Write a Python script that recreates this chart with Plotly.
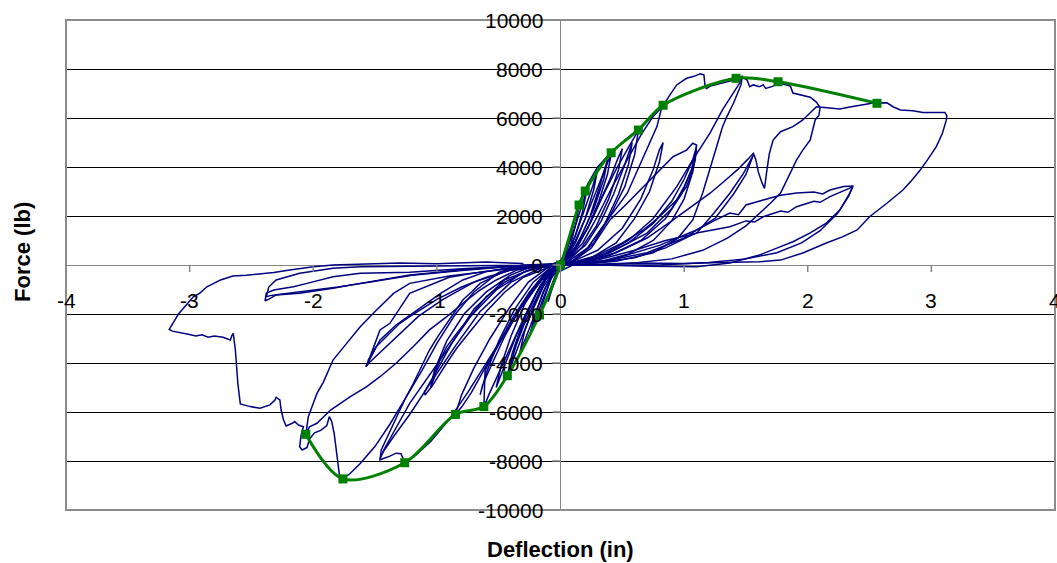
import plotly.graph_objects as go

# ---------------- data ----------------
x_tick_vals = [-4, -3, -2, -1, 0, 1, 2, 3, 4]
y_tick_vals = [-10000, -8000, -6000, -4000, -2000, 0, 2000, 4000, 6000, 8000, 10000]

# backbone (envelope) curve, green
env_x = [-2.06, -1.76, -1.26, -0.85, -0.62, -0.43, -0.17, 0.00, 0.15, 0.20, 0.41, 0.63, 0.83, 1.42, 1.76, 2.56]
env_y = [-6910, -8730, -8070, -6100, -5780, -4520, -2040, 0, 2450, 3020, 4580, 5510, 6520, 7620, 7480, 6600]

# hysteresis record, blue (one array pair per cycle)
loop01_x = [0, 0.03, 0.06, 0.10, 0.08, 0.04, 0.00, -0.03, -0.07, -0.10, -0.08, -0.03, 0.00]
loop01_y = [0, 500, 1000, 1600, 1100, 400, 0, -400, -1000, -1500, -1000, -300, 0]

loop02_x = [0.00, 0.05, 0.10, 0.15, 0.13, 0.08, 0.02, -0.04, -0.10, -0.17, -0.14, -0.08, -0.02]
loop02_y = [0, 700, 1600, 2450, 1800, 800, 100, -400, -1200, -2100, -1500, -600, 0]

loop03_x = [-0.02, 0.04, 0.10, 0.16, 0.21, 0.18, 0.12, 0.05, -0.02, -0.08, -0.15, -0.25, -0.21, -0.14, -0.06, -0.02]
loop03_y = [0, 500, 1300, 2200, 3000, 2200, 1200, 300, -100, -600, -1500, -2900, -2100, -1100, -300, 0]

loop04_x = [-0.03, 0.05, 0.12, 0.20, 0.26, 0.30, 0.27, 0.20, 0.12, 0.04, -0.04, -0.12, -0.20, -0.27, -0.33, -0.29, -0.21, -0.12, -0.05]
loop04_y = [0, 400, 1200, 2300, 3200, 3900, 3100, 1900, 900, 200, -200, -900, -1900, -2800, -3600, -2700, -1600, -600, -100]

loop05_x = [-0.05, 0.04, 0.12, 0.20, 0.28, 0.35, 0.41, 0.38, 0.31, 0.22, 0.12, 0.03, -0.05, -0.14, -0.23, -0.31, -0.38, -0.43, -0.39, -0.31, -0.20, -0.10, -0.03]
loop05_y = [0, 300, 1000, 1900, 2900, 3800, 4550, 3700, 2600, 1500, 600, 100, -200, -900, -1900, -2900, -3800, -4520, -3600, -2400, -1200, -400, 0]

loop06_x = [-0.03, 0.08, 0.16, 0.24, 0.31, 0.35, 0.38, 0.35, 0.27, 0.17, 0.07, -0.03, -0.12, -0.21, -0.30, -0.36, -0.40, -0.36, -0.28, -0.18, -0.08, -0.03]
loop06_y = [0, 400, 1100, 2000, 3100, 3800, 4300, 3500, 2300, 1200, 300, -100, -600, -1500, -2500, -3300, -4000, -3200, -2100, -1000, -200, 0]

loop07_x = [-0.08, 0.03, 0.12, 0.22, 0.31, 0.40, 0.46, 0.50, 0.47, 0.39, 0.29, 0.17, 0.05, -0.07, -0.16, -0.26, -0.36, -0.45, -0.52, -0.48, -0.40, -0.29, -0.16, -0.06]
loop07_y = [0, 200, 700, 1500, 2500, 3500, 4300, 4750, 3900, 2700, 1600, 700, 100, -200, -800, -1800, -2900, -4100, -5000, -4100, -2900, -1600, -600, -100]

loop08_x = [-0.06, 0.05, 0.15, 0.25, 0.35, 0.45, 0.55, 0.63, 0.60, 0.52, 0.40, 0.27, 0.12, 0.00, -0.10, -0.20, -0.30, -0.40, -0.50, -0.58, -0.62, -0.615, -0.61, -0.55, -0.45, -0.33, -0.20, -0.08]
loop08_y = [0, 300, 900, 1800, 2900, 3900, 4800, 5500, 4500, 3200, 2000, 900, 200, 0, -400, -1200, -2200, -3300, -4400, -5300, -5800, -5000, -4300, -3700, -2800, -1800, -800, -100]

loop09_x = [-0.08, 0.05, 0.18, 0.30, 0.42, 0.54, 0.65, 0.74, 0.82, 0.78, 0.72, 0.64, 0.54, 0.40, 0.22, 0.02, -0.12, -0.25, -0.38, -0.50, -0.62, -0.72, -0.80, -0.85, -0.80, -0.70, -0.57, -0.42, -0.26, -0.10]
loop09_y = [0, 200, 900, 2000, 3200, 4300, 5300, 6000, 6460, 5650, 4970, 4010, 2930, 1970, 700, 0, -300, -1100, -2100, -3200, -4300, -5200, -5800, -6100, -5300, -4200, -3000, -1800, -700, -100]

loop10_x = [-0.10, 0.10, 0.25, 0.40, 0.54, 0.67, 0.80, 0.91, 1.02, 1.07, 1.10, 1.09, 1.06, 1.02, 0.94, 0.80, 0.67, 0.50, 0.30, 0.10, -0.10, -0.30, -0.45, -0.60, -0.73, -0.84, -0.92, -0.98, -1.04, -1.096, -1.10, -1.09, -1.06, -1.03, -0.975, -0.92, -0.84, -0.73, -0.60, -0.45, -0.28, -0.12]
loop10_y = [0, 150, 700, 1840, 2520, 3200, 3880, 4420, 4690, 4970, 4900, 4290, 3740, 3200, 2650, 1970, 1430, 900, 400, 100, -100, -500, -1100, -1900, -2700, -3400, -4000, -4500, -4950, -5310, -5150, -5100, -4830, -4560, -3880, -3330, -2790, -2110, -1290, -700, -250, 0]

loop11_x = [0.00, 0.08, 0.15, 0.22, 0.30, 0.41, 0.52, 0.63, 0.73, 0.83, 0.88, 0.94, 1.02, 1.08, 1.13, 1.16, 1.17, 1.18, 1.22, 1.27, 1.33, 1.38, 1.43, 1.47, 1.46, 1.43, 1.40, 1.35, 1.31, 1.27, 1.23, 1.19, 1.15, 1.07, 0.95, 0.75, 0.45, 0.10,
            -0.15, -0.30, -0.45, -0.60, -0.75, -0.90, -1.05, -1.18, -1.26, -1.29, -1.33, -1.38, -1.43, -1.46, -1.45, -1.39, -1.33, -1.26, -1.19, -1.12, -1.06, -0.99, -0.92, -0.85, -0.79, -0.72, -0.65, -0.45, -0.20]
loop11_y = [0, 1200, 2450, 3300, 4000, 4600, 5100, 5550, 6000, 6500, 6900, 7350, 7620, 7700, 7800, 7760, 7280, 7200, 7320, 7380, 7480, 7520, 7620, 7700, 7350, 6950, 6610, 6100, 5630, 4950, 4290, 3600, 2940, 1840, 1100, 500, 150, 0,
            -600, -1600, -2800, -4000, -5200, -6300, -7200, -7800, -8070, -7700, -7680, -7800, -7880, -7950, -7550, -6900, -6190, -5500, -4830, -4100, -3470, -2900, -2380, -1900, -1430, -1100, -750, -250, 0]

loop12_x = [-0.20, 0.10, 0.30, 0.55, 0.75, 0.94, 1.07, 1.21, 1.31, 1.40, 1.45, 1.466, 1.51, 1.53, 1.56, 1.61, 1.64, 1.66, 1.72, 1.76, 1.83, 1.86, 1.88, 1.94, 2.02, 2.07, 2.10, 2.09, 2.06, 2.02, 1.96, 1.91, 1.87, 1.78, 1.70, 1.61, 1.50, 1.35, 1.15, 0.90, 0.60, 0.30, 0.00,
            -0.30, -0.50, -0.70, -0.85, -1.00, -1.12, -1.25, -1.38, -1.50, -1.62, -1.70, -1.76, -1.78, -1.80, -1.83, -1.85, -1.87, -1.89, -1.94, -1.99, -2.03, -2.05, -2.09, -2.11, -2.10, -2.08, -2.12, -2.15, -2.17, -2.22, -2.24, -2.26, -2.27, -2.30, -2.31, -2.35, -2.43, -2.51, -2.59, -2.61, -2.63, -2.647, -2.66, -2.67, -2.70, -2.73, -2.80, -2.85, -2.90, -2.95, -3.02, -3.08, -3.14, -3.165, -3.15, -3.13, -3.09, -3.04, -2.97, -2.92, -2.86, -2.75, -2.65, -2.54, -2.43, -2.32, -2.19, -2.00, -1.84, -1.62, -1.30, -1.00, -0.60, -0.30]
loop12_y = [0, 50, 300, 1000, 1900, 3200, 4290, 5390, 6330, 7020, 7430, 7690, 7550, 7280, 7350, 7280, 7350, 7210, 7300, 7440, 7320, 7300, 7020, 6960, 6850, 6650, 6420, 6100, 5920, 5100, 4690, 4290, 3880, 2940, 2530, 2120, 1600, 1100, 600, 250, 80, 0, 50,
            0, -300, -1100, -2000, -3200, -4300, -5400, -6500, -7400, -8100, -8500, -8730, -8900, -8000, -6900, -6400, -6190, -6550, -6750, -6850, -7100, -7450, -7550, -7420, -7000, -6600, -6530, -6390, -6460, -6570, -6330, -5920, -5510, -5400, -5510, -5710, -5850, -5780, -5670, -4830, -3470, -2790, -2900, -3060, -3000, -2950, -2900, -2950, -2850, -2900, -2820, -2750, -2700, -2630, -2500, -2310, -2000, -1700, -1300, -1155, -890, -610, -450, -420, -370, -310, -200, -70, 0, 40, 80, 50, 120, 60]

loop13_x = [0.00, 0.20, 0.45, 0.70, 0.90, 1.10, 1.21, 1.32, 1.43, 1.51, 1.56, 1.58, 1.60, 1.63, 1.65, 1.67, 1.69, 1.72, 1.78, 1.88, 1.96, 2.07, 2.15, 2.26, 2.34, 2.42, 2.53, 2.64, 2.69, 2.75, 2.85, 2.93, 3.01, 3.08, 3.11, 3.125, 3.12, 3.09, 3.04, 2.97, 2.91, 2.84, 2.77, 2.64, 2.50, 2.40, 2.28, 2.15, 1.96, 1.78, 1.61, 1.30, 1.00, 0.60, 0.20,
            -0.20, -0.50, -0.90, -1.22, -1.35, -1.50, -1.62, -1.73, -1.84, -1.92, -1.97, -2.04, -2.06, -2.03, -1.97, -1.86, -1.70, -1.57, -1.46, -1.33, -1.19, -1.06, -0.92, -0.79, -0.65, -0.52, -0.35, -0.15, 0.00]
loop13_y = [0, 150, 500, 1100, 1800, 2520, 2930, 3400, 3880, 4290, 4560, 4300, 3800, 3350, 3130, 3880, 4560, 5100, 5440, 5650, 5920, 6460, 6410, 6370, 6450, 6530, 6610, 6620, 6460, 6330, 6300, 6220, 6220, 6250, 6220, 6100, 5900, 5390, 4830, 4300, 3880, 3450, 3060, 2520, 1970, 1430, 1150, 900, 490, 200, 130, 100, 60, 80, 0,
            -50, -200, -450, -750, -1160, -1900, -2520, -3200, -3880, -4800, -5240, -6190, -6910, -6600, -6460, -5920, -5370, -4970, -4560, -4010, -3330, -2650, -2110, -1560, -1020, -610, -200, -50, 0]

loop14_x = [0.00, 0.30, 0.60, 0.85, 1.10, 1.24, 1.37, 1.50, 1.57, 1.64, 1.78, 1.84, 1.91, 2.05, 2.10, 2.18, 2.26, 2.34, 2.364, 2.34, 2.26, 2.15, 2.02, 1.88, 1.75, 1.61, 1.37, 1.10, 0.70, 0.30,
            0.00, -0.40, -0.80, -1.22, -1.62, -1.84, -2.05, -2.16, -2.32, -2.38, -2.39, -2.37, -2.30, -2.20, -2.11, -2.03, -1.84, -1.62, -1.40, -1.22, -0.80, -0.40, 0.00]
loop14_y = [0, 100, 300, 700, 1310, 1450, 1560, 1800, 1760, 1970, 2200, 2150, 2380, 2600, 2560, 2790, 2950, 3140, 3200, 2930, 2240, 1710, 1310, 950, 690, 410, 80, -70, -50, 0,
            0, -50, -150, -300, -340, -480, -750, -890, -1020, -1155, -1460, -1420, -1220, -1180, -1155, -1090, -950, -750, -550, -410, -200, -50, 0]

loop15_x = [0.00, 0.40, 0.80, 1.10, 1.24, 1.37, 1.44, 1.50, 1.64, 1.78, 1.91, 2.05, 2.12, 2.18, 2.29, 2.365, 2.33, 2.24, 2.10, 1.95, 1.75, 1.50, 1.20, 0.80, 0.40,
            0.00, -0.50, -1.00, -1.62, -1.84, -2.11, -2.30, -2.36, -2.38, -2.35, -2.28, -2.15, -2.00, -1.80, -1.55, -1.20, -0.80, -0.40, 0.00]
loop15_y = [0, 200, 800, 1430, 1800, 2120, 2050, 2450, 2650, 2850, 2940, 2980, 2900, 3060, 3200, 3220, 2800, 2100, 1400, 900, 500, 250, 100, 0, 0,
            0, -20, -40, -70, -135, -340, -610, -900, -1300, -1250, -1200, -1120, -1050, -900, -700, -420, -220, -60, 0]

loop16_x = [0.00, 0.30, 0.60, 0.85, 1.10, 1.24, 1.37, 1.48, 1.56, 1.50, 1.40, 1.25, 1.00, 0.70, 0.35, 0.00,
            -0.20, -0.60, -0.90, -1.22, -1.38, -1.46, -1.54, -1.574, -1.56, -1.555, -1.49, -1.41, -1.30, -1.22, -1.00, -0.80, -0.60, -0.40, -0.20]
loop16_y = [0, 200, 600, 1000, 1290, 2110, 2930, 3740, 4490, 3700, 2900, 1900, 1100, 500, 150, 0,
            0, -250, -500, -1160, -2380, -2650, -3740, -4150, -4050, -3880, -3330, -2930, -2380, -2110, -1400, -900, -500, -200, 0]

loop17_x = [0.00, 0.30, 0.55, 0.75, 0.90, 1.00, 1.07, 1.10, 1.06, 0.98, 0.85, 0.65, 0.40, 0.15,
            -0.10, -0.40, -0.70, -0.95, -1.15, -1.30, -1.45, -1.55, -1.574, -1.46, -1.33, -1.16, -0.97, -0.79, -0.60, -0.30]
loop17_y = [0, 300, 900, 1700, 2600, 3500, 4300, 4830, 3900, 2900, 1900, 1000, 400, 50,
            0, -200, -700, -1400, -2100, -2800, -3500, -4000, -4150, -3060, -2450, -1840, -1160, -610, -270, 0]

loop18_x = [-0.10, 0.10, 0.30, 0.50, 0.65, 0.75, 0.80, 0.83, 0.80, 0.72, 0.60, 0.45, 0.25, 0.05,
            -0.15, -0.40, -0.65, -0.85, -1.05, -1.22, -1.35, -1.43, -1.46, -1.43, -1.22, -0.975, -0.73, -0.52, -0.30, -0.10]
loop18_y = [0, 150, 600, 1500, 2700, 3900, 4700, 5000, 4200, 3000, 1900, 900, 300, 0,
            -100, -700, -1900, -3300, -4800, -6100, -7000, -7600, -7900, -7550, -5650, -3880, -2110, -1020, -300, 0]

loop19_x = [-0.10, 0.05, 0.20, 0.33, 0.43, 0.52, 0.58, 0.55, 0.47, 0.36, 0.22, 0.08, -0.05, -0.18, -0.32, -0.45, -0.56, -0.63, -0.65, -0.60, -0.50, -0.37, -0.22, -0.08]
loop19_y = [0, 200, 800, 1800, 2900, 4100, 5000, 4100, 2900, 1700, 700, 100, -150, -700, -1700, -2900, -4100, -4900, -5300, -4400, -3100, -1800, -700, -100]

loop20_x = [-0.20, 0.10, 0.40, 0.70, 0.90, 1.00, 1.08, 1.10, 1.07, 1.00, 0.90, 0.75, 0.55, 0.30, 0.05,
            -0.20, -0.45, -0.70, -0.88, -1.00, -1.05, -1.02, -0.92, -0.78, -0.60, -0.40, -0.20]
loop20_y = [0, 100, 500, 1300, 2300, 3200, 4100, 4700, 3800, 2700, 1800, 1000, 450, 100, 0,
            -100, -600, -1800, -3200, -4300, -5000, -4300, -3100, -2000, -1100, -400, 0]

loops = [
    (loop01_x, loop01_y), (loop02_x, loop02_y), (loop03_x, loop03_y), (loop04_x, loop04_y),
    (loop05_x, loop05_y), (loop06_x, loop06_y), (loop07_x, loop07_y), (loop08_x, loop08_y),
    (loop09_x, loop09_y), (loop10_x, loop10_y), (loop11_x, loop11_y), (loop12_x, loop12_y),
    (loop13_x, loop13_y), (loop14_x, loop14_y), (loop15_x, loop15_y), (loop16_x, loop16_y),
    (loop17_x, loop17_y), (loop18_x, loop18_y), (loop19_x, loop19_y), (loop20_x, loop20_y),
]

# ---------------- figure ----------------
BLUE = "#000080"
GREEN = "#008000"
AXIS_GRAY = "#868686"
FONT = "Liberation Sans, Arial, sans-serif"

fig = go.Figure()
for lx, ly in loops:
    fig.add_trace(go.Scatter(x=lx, y=ly, mode="lines",
                             line=dict(color=BLUE, width=1.5),
                             hoverinfo="skip", showlegend=False))

fig.add_trace(go.Scatter(x=env_x, y=env_y, mode="lines+markers",
                         line=dict(color=GREEN, width=3, shape="spline", smoothing=0.9),
                         marker=dict(symbol="square", size=9, color=GREEN),
                         showlegend=False))

fig.update_layout(
    width=1057, height=563,
    margin=dict(l=66, r=2, t=20, b=53),
    plot_bgcolor="white", paper_bgcolor="white",
    showlegend=False,
    xaxis=dict(range=[-4, 4], showgrid=False, zeroline=True, zerolinecolor=AXIS_GRAY,
               zerolinewidth=1, showticklabels=False, ticks="", showline=False),
    yaxis=dict(range=[-10000, 10000], showgrid=True, gridcolor="black", gridwidth=1,
               tick0=0, dtick=2000, zeroline=True, zerolinecolor=AXIS_GRAY,
               zerolinewidth=1, showticklabels=False, ticks="", showline=False),
)

shapes = []
# tick marks on the x axis (drawn at y = 0, hanging down)
for v in x_tick_vals:
    shapes.append(dict(type="line", xref="x", yref="y", x0=v, x1=v,
                       ysizemode="pixel", yanchor=0, y0=0, y1=-7,
                       line=dict(color=AXIS_GRAY, width=1.5)))
# tick marks on the y axis (drawn at x = 0, pointing left)
for v in y_tick_vals:
    shapes.append(dict(type="line", xref="x", yref="y", y0=v, y1=v,
                       xsizemode="pixel", xanchor=0, x0=-8, x1=0,
                       line=dict(color=AXIS_GRAY, width=1.5)))
# plot-area border
shapes.append(dict(type="rect", xref="paper", yref="paper", x0=0, x1=1, y0=0, y1=1,
                   line=dict(color="#8c8c8c", width=2), fillcolor="rgba(0,0,0,0)", layer="above"))
fig.update_layout(shapes=shapes)

ann = []
for v in x_tick_vals:
    ann.append(dict(x=v, y=0, xref="x", yref="y", text=str(v), showarrow=False,
                    xanchor="center", yanchor="middle", yshift=-35,
                    font=dict(family=FONT, size=21, color="black")))
for v in y_tick_vals:
    ann.append(dict(x=0, y=v, xref="x", yref="y", text=str(v), showarrow=False,
                    xanchor="right", yanchor="middle", xshift=-16,
                    font=dict(family=FONT, size=21, color="black")))
ann.append(dict(x=0.5, y=-0.0796, xref="paper", yref="paper", text="<b>Deflection (in)</b>",
                showarrow=False, xanchor="center", yanchor="middle",
                font=dict(family=FONT, size=22, color="black")))
ann.append(dict(x=-0.044, y=0.5276, xref="paper", yref="paper", text="<b>Force (lb)</b>",
                showarrow=False, xanchor="center", yanchor="middle", textangle=-90,
                font=dict(family=FONT, size=22, color="black")))
fig.update_layout(annotations=ann)

fig.write_html("out.html")
